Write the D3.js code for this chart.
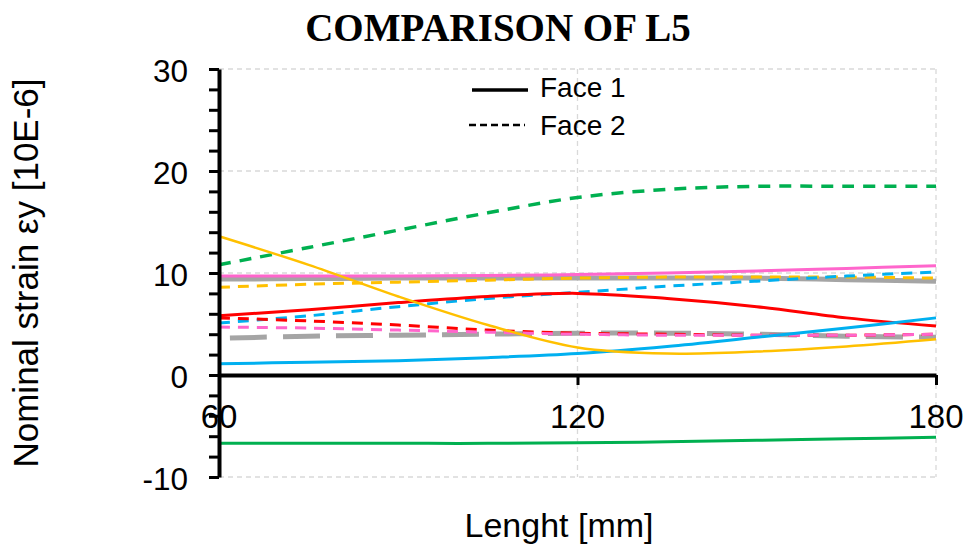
<!DOCTYPE html>
<html lang="en">

<head>
    <meta charset="utf-8">
    <title>Comparison of L5</title>
    <script type="text/javascript" src="https://d3js.org/d3.v7.min.js"></script>
    <style>
        body { margin: 0; background: #fff; }
        text { font-family: "Liberation Sans", Arial, sans-serif; fill: #000; }
        .title { font-family: "Liberation Serif", "Times New Roman", serif; font-weight: bold; }
    </style>
</head>

<body>
    <div id="container"></div>
    <script type="text/javascript">
        var w = 974;
        var h = 547;

        // x positions along the member (mm)
        var lengths = [60, 75, 90, 105, 120, 135, 150, 165, 180];
        var xTicks = [60, 120, 180];
        var yTicks = [-10, 0, 10, 20, 30];

        // strain values, 10E-6
        var grayF1 = [9.4, 9.45, 9.5, 9.5, 9.5, 9.5, 9.5, 9.35, 9.2];
        var grayF2 = [3.6, 3.8, 3.9, 4.0, 4.1, 4.1, 4.0, 3.8, 3.7];
        var greenF1 = [-6.7, -6.7, -6.7, -6.7, -6.65, -6.55, -6.4, -6.25, -6.1];
        var greenF2 = [10.8, 12.5, 14.2, 15.9, 17.4, 18.2, 18.5, 18.5, 18.5];
        var yellowF2 = [8.6, 8.9, 9.1, 9.3, 9.5, 9.6, 9.6, 9.6, 9.5];
        var blueF2 = [5.1, 5.8, 6.7, 7.5, 8.1, 8.7, 9.2, 9.7, 10.1];
        var redF1 = [5.8, 6.4, 7.1, 7.7, 8.0, 7.5, 6.7, 5.6, 4.8];
        var redF2 = [5.6, 5.3, 4.9, 4.4, 4.1, 4.0, 3.9, 3.9, 4.0];
        var pinkF2 = [4.7, 4.6, 4.4, 4.2, 4.0, 3.9, 3.9, 3.9, 4.0];
        var pinkF1 = [9.7, 9.7, 9.7, 9.75, 9.85, 10.0, 10.2, 10.45, 10.7];
        var blueF1 = [1.1, 1.25, 1.4, 1.7, 2.1, 2.8, 3.7, 4.6, 5.6];
        var yellowF1 = [13.6, 10.8, 7.7, 4.9, 2.7, 2.1, 2.3, 2.8, 3.5];

        var series = [
            { values: grayF1, color: "#A5A5A5", width: 5, dash: null },
            { values: grayF2, color: "#A5A5A5", width: 5, dash: "37,16", offset: 42 },
            { values: greenF1, color: "#00B050", width: 3, dash: null },
            { values: greenF2, color: "#00B050", width: 3.5, dash: "12,9" },
            { values: yellowF2, color: "#FFC000", width: 3, dash: "11,8" },
            { values: blueF2, color: "#00B0F0", width: 3, dash: "11,8" },
            { values: redF1, color: "#FF0000", width: 3, dash: null },
            { values: redF2, color: "#FF0000", width: 3, dash: "11,8" },
            { values: pinkF2, color: "#FF66CC", width: 3, dash: "11,8" },
            { values: pinkF1, color: "#FF66CC", width: 3, dash: null },
            { values: blueF1, color: "#00B0F0", width: 3, dash: null },
            { values: yellowF1, color: "#FFC000", width: 2.5, dash: null }
        ];

        var margin = { left: 219, right: 38, top: 69, bottom: 70 };

        const svg = d3.select("div#container")
            .append("svg")
            .attr("width", w)
            .attr("height", h);

        var x = d3.scaleLinear().domain([60, 180]).range([margin.left, w - margin.right]);
        var y = d3.scaleLinear().domain([-10, 30]).range([h - margin.bottom, margin.top]);

        // grid
        svg.append("g")
            .selectAll("line")
            .data(yTicks.filter((d) => d !== 0))
            .enter()
            .append("line")
            .attr("x1", x(60)).attr("x2", x(180))
            .attr("y1", (d) => y(d)).attr("y2", (d) => y(d))
            .attr("stroke", "#D9D9D9").attr("stroke-width", 1.3).attr("stroke-dasharray", "5,4");
        svg.append("g")
            .selectAll("line")
            .data(xTicks.slice(1))
            .enter()
            .append("line")
            .attr("x1", (d) => x(d)).attr("x2", (d) => x(d))
            .attr("y1", y(30)).attr("y2", y(-10))
            .attr("stroke", "#D9D9D9").attr("stroke-width", 1.3).attr("stroke-dasharray", "5,4");

        // lines
        var line = d3.line()
            .x((d, i) => x(lengths[i]))
            .y((d) => y(d))
            .curve(d3.curveCatmullRom.alpha(0.5));

        svg.append("g")
            .selectAll("path")
            .data(series)
            .enter()
            .append("path")
            .attr("d", (d) => line(d.values))
            .attr("fill", "none")
            .attr("stroke", (d) => d.color)
            .attr("stroke-width", (d) => d.width)
            .attr("stroke-dasharray", (d) => d.dash)
            .attr("stroke-dashoffset", (d) => d.offset || 0);

        // y axis
        var yAxis = svg.append("g")
            .attr("transform", "translate(" + x(60) + ",0)")
            .call(d3.axisLeft(y).tickValues(d3.range(-10, 31, 2)).tickSize(10).tickSizeOuter(0).tickFormat(""));
        yAxis.select(".domain").attr("stroke-width", 4);
        yAxis.selectAll(".tick line").attr("stroke-width", 3);

        svg.append("g")
            .selectAll("text")
            .data(yTicks)
            .enter()
            .append("text")
            .text((d) => d)
            .attr("x", x(60) - 31)
            .attr("y", (d) => y(d) + 13)
            .attr("text-anchor", "end")
            .style("font-size", "31.5px");

        // x axis along zero
        var xAxis = svg.append("g")
            .attr("transform", "translate(0," + y(0) + ")")
            .call(d3.axisBottom(x).tickValues(xTicks).tickSize(10).tickSizeOuter(0).tickFormat(""));
        xAxis.select(".domain").attr("stroke-width", 4);
        xAxis.selectAll(".tick line").attr("stroke-width", 3);

        svg.append("g")
            .selectAll("text")
            .data(xTicks)
            .enter()
            .append("text")
            .text((d) => d)
            .attr("x", (d) => x(d))
            .attr("y", y(0) + 53)
            .attr("text-anchor", "middle")
            .style("font-size", "33px");

        // titles
        svg.append("text")
            .attr("class", "title")
            .attr("x", 498)
            .attr("y", 41)
            .attr("text-anchor", "middle")
            .style("font-size", "39px")
            .text("COMPARISON OF L5");

        svg.append("text")
            .attr("x", 559)
            .attr("y", 537)
            .attr("text-anchor", "middle")
            .style("font-size", "34px")
            .text("Lenght [mm]");

        svg.append("text")
            .attr("transform", "translate(38," + ((y(30) + y(-10)) / 2) + ") rotate(-90)")
            .attr("text-anchor", "middle")
            .style("font-size", "35px")
            .text("Nominal strain εy [10E-6]");

        // legend
        var legendItems = [
            { label: "Face 1", dash: null, width: 3.5 },
            { label: "Face 2", dash: "7,4", width: 2.5 }
        ];
        var legend = svg.append("g").attr("transform", "translate(472,90)");
        legend.selectAll("line")
            .data(legendItems)
            .enter()
            .append("line")
            .attr("x1", (d, i) => -i * 3).attr("x2", (d, i) => 56 - i * 3)
            .attr("y1", (d, i) => i * 35).attr("y2", (d, i) => i * 35)
            .attr("stroke", "#000")
            .attr("stroke-width", (d) => d.width)
            .attr("stroke-dasharray", (d) => d.dash);
        legend.selectAll("text")
            .data(legendItems)
            .enter()
            .append("text")
            .attr("x", 68)
            .attr("y", (d, i) => i * 38 + 7)
            .style("font-size", "28px")
            .text((d) => d.label);
    </script>
</body>

</html>
